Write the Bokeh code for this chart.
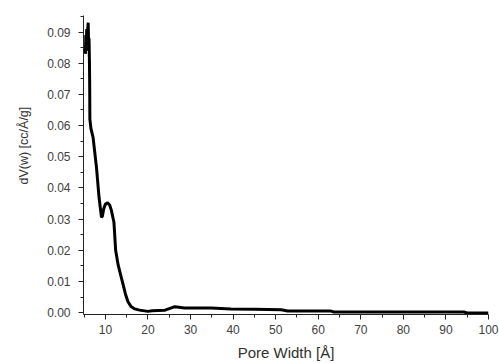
from bokeh.plotting import figure
from bokeh.models import Range1d, NumeralTickFormatter, FixedTicker, Title
from bokeh.embed import file_html
from bokeh.resources import INLINE

# Pore width [Å] and dV(w) [cc/Å/g]
pore_width = [5.3, 5.4, 5.5, 5.6, 5.7, 5.8, 5.95, 6.05, 6.15, 6.25, 6.3, 6.35,
              6.6, 7.1, 7.9, 8.5, 9.07, 9.3, 9.6, 10.0, 10.5, 11.0, 11.4,
              12.0, 12.4, 13.0, 13.5, 14.1, 14.7, 15.3, 16.0, 16.9, 18.0,
              20.0, 21.0, 22.4, 24.0, 25.5, 26.3, 28.6, 31.0, 34.8, 39.5,
              45.0, 51.3, 52.8, 58.0, 63.0, 63.7, 70.0, 80.0, 90.0, 94.2,
              95.0, 100.0]
dv = [0.083, 0.089, 0.084, 0.091, 0.085, 0.090, 0.093, 0.086, 0.088, 0.080,
      0.074, 0.062, 0.059, 0.0562, 0.0466, 0.037, 0.0306, 0.031, 0.0333,
      0.0348, 0.0352, 0.0345, 0.0328, 0.029, 0.020, 0.0152, 0.0125, 0.0093,
      0.006, 0.0035, 0.002, 0.0012, 0.0008, 0.0004, 0.0006, 0.0007, 0.0008,
      0.0015, 0.0019, 0.0015, 0.0015, 0.0015, 0.0012, 0.0011, 0.0009,
      0.0005, 0.0005, 0.0005, 0.0002, 0.0002, 0.0002, 0.0002, 0.0002,
      -0.0001, -0.0001]

x_ticks = [10, 20, 30, 40, 50, 60, 70, 80, 90, 100]
y_ticks = [0.00, 0.01, 0.02, 0.03, 0.04, 0.05, 0.06, 0.07, 0.08, 0.09]

FONT = "Liberation Sans"
TXT = "#404040"

p = figure(width=499, height=363, output_backend="svg", toolbar_location=None,
           x_range=Range1d(4.85, 100), y_range=Range1d(-0.0006, 0.0953),
           min_border_left=82, min_border_right=11, min_border_top=15,
           min_border_bottom=49)
p.outline_line_color = None
p.grid.visible = False
p.background_fill_color = "white"
p.border_fill_color = "white"

p.line(pore_width, dv, line_color="black", line_width=3)

minor_x = [5 + 10 * i for i in range(10)]
minor_y = [0.005 + 0.01 * i for i in range(10)]
p.xaxis.ticker = FixedTicker(ticks=x_ticks, minor_ticks=minor_x)
p.yaxis.ticker = FixedTicker(ticks=y_ticks, minor_ticks=minor_y)
p.yaxis.formatter = NumeralTickFormatter(format="0.00")

for ax in (p.xaxis, p.yaxis):
    ax.axis_line_color = "#222222"
    ax.major_tick_line_color = "#222222"
    ax.minor_tick_line_color = "#222222"
    ax.major_tick_out = 5
    ax.major_tick_in = 0
    ax.minor_tick_out = 3
    ax.minor_tick_in = 0
    ax.major_label_text_font = FONT
    ax.major_label_text_font_size = "12px"
    ax.major_label_text_color = TXT
    ax.axis_label_text_font = FONT
    ax.axis_label_text_font_style = "normal"
    ax.axis_label_text_color = "#303030"

p.yaxis.major_label_standoff = 8
p.xaxis.major_label_standoff = 5
p.xaxis.axis_label = "Pore Width [Å]"
p.xaxis.axis_label_text_font_size = "15px"
p.xaxis.axis_label_standoff = 7

ytitle = Title(text="dV(w) [cc/Å/g]", align="left", offset=130,
               text_font=FONT, text_font_size="12.5px",
               text_font_style="normal", text_color="#303030", standoff=28)
p.add_layout(ytitle, "left")

open("out.html", "w").write(file_html(p, INLINE))
